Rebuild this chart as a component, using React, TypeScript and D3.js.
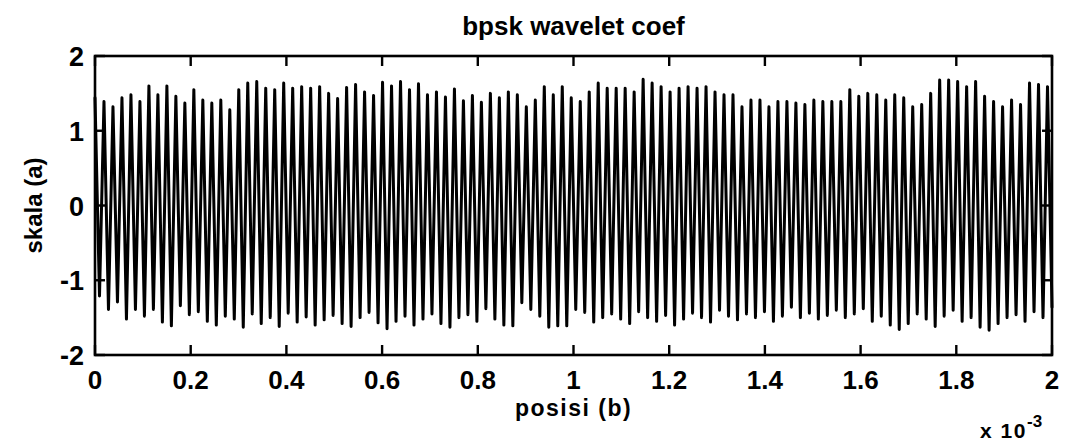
import React from "react";
import * as d3 from "d3";

// Wavelet coefficients of the BPSK signal, stored as alternating crest / trough samples
const crests: number[] = [
  1.44, 1.39, 1.32, 1.44, 1.48, 1.39, 1.6, 1.48, 1.6, 1.46, 1.37, 1.55, 1.41, 1.37, 1.41, 1.28, 1.55, 1.64, 1.66, 1.57, 1.55, 1.64, 1.57, 1.59, 1.57, 1.59,
  1.5, 1.43, 1.58, 1.62, 1.52, 1.47, 1.65, 1.6, 1.66, 1.55, 1.63, 1.48, 1.52, 1.45, 1.56, 1.4, 1.47, 1.38, 1.5, 1.44,
  1.52, 1.48, 1.32, 1.41, 1.59, 1.48, 1.59, 1.44, 1.39, 1.52, 1.64,
  1.57, 1.57, 1.57, 1.52, 1.69, 1.64, 1.59, 1.52, 1.57, 1.59, 1.57, 1.59, 1.52, 1.48, 1.48, 1.32, 1.41, 1.41, 1.32, 1.39, 1.39, 1.37, 1.35, 1.41, 1.39, 1.39, 1.39, 1.55, 1.46,
  1.5, 1.48, 1.41, 1.48, 1.44, 1.32, 1.35, 1.5, 1.68, 1.68, 1.66, 1.59, 1.66, 1.46, 1.39, 1.32, 1.41, 1.35, 1.64, 1.62, 1.59, 1.55, 1.32,
];

const troughs: number[] = [
  -1.21, -1.39, -1.29, -1.52, -1.39, -1.48, -1.39, -1.56, -1.61, -1.34, -1.46,
  -1.42, -1.55, -1.6, -1.48, -1.52, -1.63, -1.45, -1.58, -1.5, -1.62, -1.44, -1.56, -1.49, -1.6, -1.53,
  -1.47, -1.58, -1.62, -1.5, -1.43, -1.57, -1.65, -1.55, -1.48, -1.6, -1.52, -1.45, -1.58, -1.63, -1.5,
  -1.46, -1.55, -1.38, -1.52, -1.6,
  -1.61, -1.3, -1.39, -1.48, -1.63, -1.61, -1.61, -1.39, -1.43, -1.56, -1.5,
  -1.45, -1.52, -1.58, -1.42, -1.5, -1.55, -1.47, -1.6, -1.52, -1.44, -1.5, -1.56, -1.4, -1.48, -1.53, -1.45,
  -1.5, -1.42, -1.55, -1.48, -1.36, -1.5, -1.44, -1.52, -1.47, -1.4, -1.5, -1.45, -1.38, -1.55, -1.48,
  -1.6, -1.66, -1.58, -1.45, -1.52, -1.62, -1.48, -1.4, -1.55, -1.5, -1.63, -1.67, -1.58, -1.5, -1.46, -1.55, -1.42, -1.5, -1.36,
];

const xTicks: number[] = [0, 0.2e-3, 0.4e-3, 0.6e-3, 0.8e-3, 1e-3, 1.2e-3, 1.4e-3, 1.6e-3, 1.8e-3, 2e-3];
const xTickLabels: string[] = ["0", "0.2", "0.4", "0.6", "0.8", "1", "1.2", "1.4", "1.6", "1.8", "2"];
const yTicks: number[] = [-2, -1, 0, 1, 2];

const title = "bpsk wavelet coef";
const xLabel = "posisi (b)";
const yLabel = "skala (a)";

const W = 1065;
const H = 446;
const frame = { left: 95, right: 1052, top: 56, bottom: 355 };
const font = "'Liberation Sans', Arial, Helvetica, sans-serif";
const tickLen = 10;

export default function App() {
  const n = Math.min(crests.length, troughs.length);
  const samples: number[] = [];
  for (let i = 0; i < n; i++) {
    samples.push(crests[i], troughs[i]);
  }
  const duration = 2e-3;
  const step = duration / (samples.length - 1);

  const x = d3.scaleLinear().domain([0, duration]).range([frame.left, frame.right]);
  const y = d3.scaleLinear().domain([-2, 2]).range([frame.bottom, frame.top]);

  const line = d3
    .line<number>()
    .x((_, i) => x(i * step))
    .y((v) => y(v));

  return (
    <svg
      width={W}
      height={H}
      viewBox={`0 0 ${W} ${H}`}
      style={{ position: "absolute", left: 0, top: 0, background: "#fff" }}
    >
      <rect x={0} y={0} width={W} height={H} fill="#fff" />
      <path
        d={line(samples) ?? ""}
        fill="none"
        stroke="#000"
        strokeWidth={3}
        strokeLinejoin="round"
        strokeLinecap="round"
      />

      {/* frame */}
      <rect
        x={frame.left}
        y={frame.top}
        width={frame.right - frame.left}
        height={frame.bottom - frame.top}
        fill="none"
        stroke="#000"
        strokeWidth={2.6}
      />

      {/* x ticks: inward on bottom and top */}
      {xTicks.map((t, i) => (
        <g key={`xt${i}`}>
          <line x1={x(t)} x2={x(t)} y1={frame.bottom} y2={frame.bottom - tickLen} stroke="#000" strokeWidth={2.4} />
          <line x1={x(t)} x2={x(t)} y1={frame.top} y2={frame.top + tickLen} stroke="#000" strokeWidth={2.4} />
          <text
            x={x(t)}
            y={389}
            textAnchor="middle"
            fontFamily={font}
            fontWeight="bold"
            fontSize={26}
            fill="#000"
          >
            {xTickLabels[i]}
          </text>
        </g>
      ))}

      {/* y ticks: inward on left and right */}
      {yTicks.map((v, i) => (
        <g key={`yt${i}`}>
          <line x1={frame.left} x2={frame.left + tickLen} y1={y(v)} y2={y(v)} stroke="#000" strokeWidth={2.4} />
          <line x1={frame.right} x2={frame.right - tickLen} y1={y(v)} y2={y(v)} stroke="#000" strokeWidth={2.4} />
          <text
            x={84}
            y={y(v) + 10}
            textAnchor="end"
            fontFamily={font}
            fontWeight="bold"
            fontSize={27}
            fill="#000"
          >
            {v}
          </text>
        </g>
      ))}

      {/* exponent of the x axis */}
      <text x={980} y={438} fontFamily={font} fontWeight="bold" fontSize={21} letterSpacing={1.5} fill="#000">
        x 10
      </text>
      <text x={1027} y={427} fontFamily={font} fontWeight="bold" fontSize={17} fill="#000">
        -3
      </text>

      <text
        x={(frame.left + frame.right) / 2}
        y={35}
        textAnchor="middle"
        fontFamily={font}
        fontWeight="bold"
        fontSize={26}
        fill="#000"
      >
        {title}
      </text>
      <text
        x={(frame.left + frame.right) / 2}
        y={416}
        textAnchor="middle"
        fontFamily={font}
        fontWeight="bold"
        fontSize={23}
        letterSpacing={1.5}
        fill="#000"
      >
        {xLabel}
      </text>
      <text
        transform={`translate(42, ${(frame.top + frame.bottom) / 2}) rotate(-90)`}
        textAnchor="middle"
        fontFamily={font}
        fontWeight="bold"
        fontSize={24}
        fill="#000"
      >
        {yLabel}
      </text>
    </svg>
  );
}
